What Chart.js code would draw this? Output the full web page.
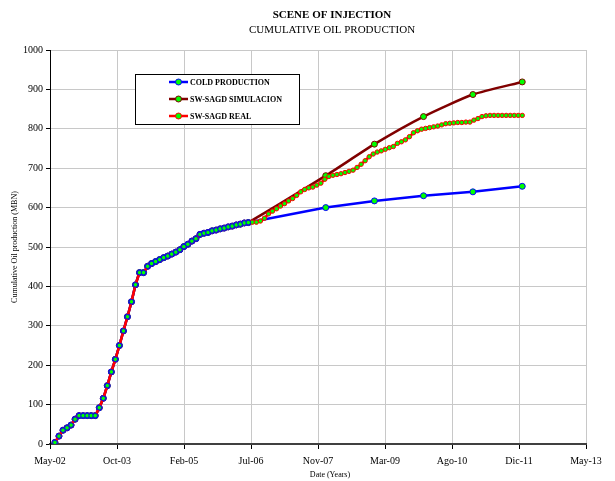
<!DOCTYPE html>
<html>
<head>
<meta charset="utf-8">
<script src="https://cdn.jsdelivr.net/npm/chart.js@4.4.1/dist/chart.umd.min.js"></script>
<style>
  html, body { margin: 0; padding: 0; background: #fff; }
</style>
</head>
<body>
<canvas id="chart" width="615" height="481"></canvas>
<script>
// tick labels of the date axis (days since May-02, equal steps)
const xTickLabels = ['May-02', 'Oct-03', 'Feb-05', 'Jul-06', 'Nov-07', 'Mar-09', 'Ago-10', 'Dic-11', 'May-13'];
const axisDays = 4018;

// SW-SAGD REAL: one reading about every month
const realFirstDay = 37;
const realStepDays = 30.2;
const realValues = [
  4, 20, 35, 41, 48, 63, 72, 72, 72, 72, 72, 92, 116, 148, 183,
  215, 250, 287, 323, 361, 404, 435, 435,
  451, 458, 463, 468, 473, 477, 482, 487, 493, 501, 507, 515, 521, 532, 535, 537,
  541, 543, 546, 548, 551, 553, 556, 558, 561, 562,
  563, 563, 566, 573, 584, 591, 597, 604, 610, 617, 623, 631, 640, 646, 650, 652,
  657, 662, 672, 679, 682, 684, 686, 689, 692, 695, 702,
  710, 719, 729, 736, 741, 744, 748, 752, 755, 763, 767, 772, 780, 790, 795, 799,
  801, 803, 805, 807, 810, 813, 814, 815, 816, 816, 817, 817, 822, 826, 831, 833,
  834, 834, 834, 834, 834, 834, 834, 834, 834
];

// history shared by all three series (first readings), then yearly forecasts
const sharedPoints = 49;
const yearlyDays = [2067, 2432, 2800, 3170, 3540];
const coldValues = [600, 617, 630, 640, 654];
const simValues = [681, 761, 831, 887, 919];

const realData = realValues.map((v, i) => ({ x: realFirstDay + i * realStepDays, y: v }));
const sharedData = realData.slice(0, sharedPoints);
const coldData = sharedData.concat(yearlyDays.map((d, i) => ({ x: d, y: coldValues[i] })));
const simData = sharedData.concat(yearlyDays.map((d, i) => ({ x: d, y: simValues[i] })));

const GREEN = '#00ff00';
const BLUE = '#0000ff';
const DARKRED = '#800000';
const RED = '#ff0000';
const FONT = '"Liberation Serif", "Times New Roman", serif';

const legendItems = [
  { label: 'COLD PRODUCTION', color: BLUE },
  { label: 'SW-SAGD SIMULACION', color: DARKRED },
  { label: 'SW-SAGD REAL', color: RED },
];

const textPlugin = {
  id: 'texts',
  afterDraw(chart) {
    const ctx = chart.ctx;
    ctx.save();
    ctx.fillStyle = '#000';
    ctx.textAlign = 'center';
    ctx.textBaseline = 'middle';
    ctx.font = 'bold 11px ' + FONT;
    ctx.fillText('SCENE OF INJECTION', 332, 15);
    ctx.font = '11px ' + FONT;
    ctx.fillText('CUMULATIVE OIL PRODUCTION', 332, 30);
    ctx.font = '8px ' + FONT;
    ctx.fillText('Date (Years)', 330, 475);
    ctx.save();
    ctx.translate(15, 247);
    ctx.rotate(-Math.PI / 2);
    ctx.fillText('Cumulative Oil production (MBN)', 0, 0);
    ctx.restore();

    // legend box
    ctx.fillStyle = '#fff';
    ctx.fillRect(135, 74, 164, 50);
    ctx.strokeStyle = '#000';
    ctx.lineWidth = 1;
    ctx.strokeRect(135.5, 74.5, 164, 50);
    ctx.textAlign = 'left';
    ctx.font = 'bold 8px ' + FONT;
    legendItems.forEach((item, i) => {
      const y = 82 + i * 17;
      ctx.strokeStyle = item.color;
      ctx.lineWidth = 2.5;
      ctx.beginPath();
      ctx.moveTo(169, y);
      ctx.lineTo(188, y);
      ctx.stroke();
      ctx.beginPath();
      ctx.arc(178.5, y, 3, 0, Math.PI * 2);
      ctx.fillStyle = GREEN;
      ctx.fill();
      ctx.lineWidth = 1;
      ctx.stroke();
      ctx.fillStyle = '#000';
      ctx.fillText(item.label, 190, y + 0.5);
    });
    ctx.restore();
  }
};

const ctx = document.getElementById('chart').getContext('2d');
new Chart(ctx, {
  type: 'line',
  data: {
    datasets: [
      {
        label: 'cold markers',
        data: sharedData,
        showLine: false,
        pointRadius: 2.3,
        pointBackgroundColor: GREEN,
        pointBorderColor: BLUE,
        pointBorderWidth: 1,
      },
      {
        label: 'SW-SAGD REAL',
        data: realData,
        borderColor: RED,
        borderWidth: 2.6,
        pointRadius: 2.2,
        pointBackgroundColor: GREEN,
        pointBorderColor: RED,
        pointBorderWidth: 1,
        tension: 0,
      },
      {
        label: 'COLD PRODUCTION',
        data: coldData,
        borderColor: BLUE,
        borderWidth: 2.5,
        pointRadius: 3,
        pointBackgroundColor: GREEN,
        pointBorderColor: BLUE,
        pointBorderWidth: 1,
        tension: 0,
      },
      {
        label: 'SW-SAGD SIMULACION',
        data: simData,
        borderColor: DARKRED,
        borderWidth: 2.5,
        pointRadius: 3,
        pointBackgroundColor: GREEN,
        pointBorderColor: DARKRED,
        pointBorderWidth: 1,
        tension: 0.2,
      },
    ],
  },
  options: {
    responsive: false,
    animation: false,
    layout: { padding: { top: 50, right: 29, bottom: 0, left: 0 } },
    plugins: {
      legend: { display: false },
      title: { display: false },
      tooltip: { enabled: false },
    },
    scales: {
      x: {
        type: 'linear',
        min: 0,
        max: axisDays,
        afterFit: (scale) => { scale.height = 37; },
        afterBuildTicks: (scale) => {
          scale.ticks = xTickLabels.map((l, i) => ({ value: i * axisDays / (xTickLabels.length - 1) }));
        },
        grid: { color: '#c8c8c8', lineWidth: 1, tickColor: '#000', tickLength: 5 },
        border: { color: '#404040', width: 2 },
        ticks: {
          autoSkip: false,
          maxRotation: 0,
          padding: 6,
          color: '#000',
          font: { family: FONT, size: 10 },
          callback: (value, index) => xTickLabels[index],
        },
      },
      y: {
        min: 0,
        max: 1000,
        afterFit: (scale) => { scale.width = 50; },
        grid: { color: '#c8c8c8', lineWidth: 1, tickColor: '#000', tickLength: 4 },
        border: { color: '#000', width: 1 },
        ticks: {
          stepSize: 100,
          padding: 3,
          color: '#000',
          font: { family: FONT, size: 10 },
          callback: (value) => String(value),
        },
      },
    },
  },
  plugins: [textPlugin],
});
</script>
</body>
</html>
